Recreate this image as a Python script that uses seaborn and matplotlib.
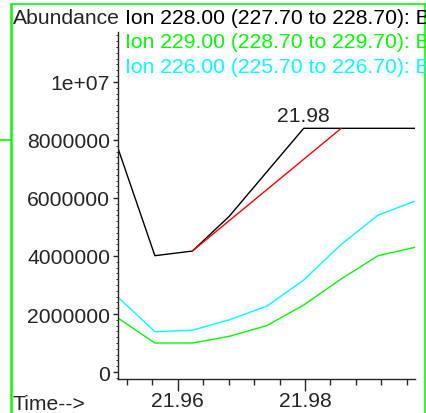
import numpy as np
import pandas as pd
import matplotlib
matplotlib.use('Agg')
import matplotlib.pyplot as plt
from matplotlib.lines import Line2D
from matplotlib.ticker import FixedLocator, MultipleLocator, FuncFormatter
import seaborn as sns

times  = [21.9506, 21.9564, 21.9623, 21.9681, 21.9740, 21.9798, 21.9857, 21.9915, 21.9973]
ion228 = [7.71e6, 4.01e6, 4.17e6, 5.37e6, 6.90e6, 8.40e6, 8.40e6, 8.40e6, 8.40e6]
ion229 = [1.86e6, 1.00e6, 1.00e6, 1.23e6, 1.60e6, 2.31e6, 3.21e6, 4.01e6, 4.30e6]
ion226 = [2.58e6, 1.39e6, 1.44e6, 1.80e6, 2.27e6, 3.17e6, 4.40e6, 5.41e6, 5.89e6]
base_t = [21.9623, 21.9857]
base_y = [4.17e6, 8.40e6]
peak_label = "21.98"
peak_t = 21.9798
legend_lines = ["Ion 228.00 (227.70 to 228.70): B",
                "Ion 229.00 (228.70 to 229.70): B",
                "Ion 226.00 (225.70 to 226.70): B"]
yticks = [0, 2e6, 4e6, 6e6, 8e6, 1e7]
xticks = [21.96, 21.98]

GREEN = '#00ff00'
CYAN = '#00ffff'
FS = 15.2

df = pd.DataFrame({'t': times, 'ion228': ion228, 'ion229': ion229, 'ion226': ion226})
df_long = df.melt(id_vars='t', var_name='ion', value_name='abund')
base_df = pd.DataFrame({'t': base_t, 'abund': base_y})

sns.set_style("ticks")
plt.rcParams['font.family'] = ['Liberation Sans', 'DejaVu Sans']

W, H = 427, 414
fig = plt.figure(figsize=(W / 100, H / 100), dpi=100)
ax = fig.add_axes([118 / W, 1 - 380 / H, (415 - 118) / W, (380 - 33) / H])

sns.lineplot(data=df_long, x='t', y='abund', hue='ion',
             palette={'ion228': 'black', 'ion229': GREEN, 'ion226': CYAN},
             hue_order=['ion226', 'ion229', 'ion228'],
             lw=1.0, legend=False, ax=ax, sort=False)
sns.lineplot(data=base_df, x='t', y='abund', color='red', lw=1.0, ax=ax)

ax.set_xlim(times[0], times[-1])
ax.set_ylim(-0.24e6, 11.72e6)
ax.set_xlabel('')
ax.set_ylabel('')
sns.despine(ax=ax)

ax.xaxis.set_major_locator(FixedLocator(xticks))
ax.xaxis.set_minor_locator(MultipleLocator(0.004))
ax.xaxis.set_major_formatter(FuncFormatter(lambda v, p: f"{v:.2f}"))
ax.yaxis.set_major_locator(FixedLocator(yticks))
ax.yaxis.set_minor_locator(MultipleLocator(2e5))
ax.yaxis.set_major_formatter(FuncFormatter(lambda v, p: "1e+07" if v >= 1e7 else f"{int(v)}"))
ax.tick_params(axis='x', which='major', length=8.4, width=1, labelsize=FS, pad=0.3)
ax.tick_params(axis='x', which='minor', length=4.3, width=1)
ax.tick_params(axis='y', which='major', length=3.6, width=1, labelsize=FS, pad=2)
ax.tick_params(axis='y', which='minor', length=1.8, width=0.6)
for s in ['left', 'bottom']:
    ax.spines[s].set_linewidth(1.0)

# étiquette du pic
ax.annotate(peak_label, xy=(peak_t, max(ion228)), xytext=(0, 2.5), textcoords='offset points',
            ha='center', va='bottom', fontsize=FS)

# textes de l'en-tête
fig.text(13 / W, 1 - 18 / H, "Abundance", fontsize=FS, va='center', ha='left')
for txt, col, yy in zip(legend_lines, ['black', GREEN, CYAN], [18, 42.5, 67.5]):
    fig.text(125 / W, 1 - yy / H, txt, color=col, fontsize=FS, va='center', ha='left')
fig.text(13 / W, 1 - 405 / H, "Time-->", fontsize=FS, va='center', ha='left')

# cadre vert de la fenêtre
fig.add_artist(Line2D([11 / W, 11 / W], [0, 1 - 5 / H], color=GREEN, lw=1.8))
fig.add_artist(Line2D([425.5 / W, 425.5 / W], [0, 1 - 5 / H], color=GREEN, lw=1.2))
fig.add_artist(Line2D([11 / W, 425.5 / W], [1 - 5 / H, 1 - 5 / H], color=GREEN, lw=1.2))
fig.add_artist(Line2D([0, 11 / W], [1 - 141 / H, 1 - 141 / H], color=GREEN, lw=1.2))

fig.savefig("out.png", dpi=100)
plt.close(fig)
